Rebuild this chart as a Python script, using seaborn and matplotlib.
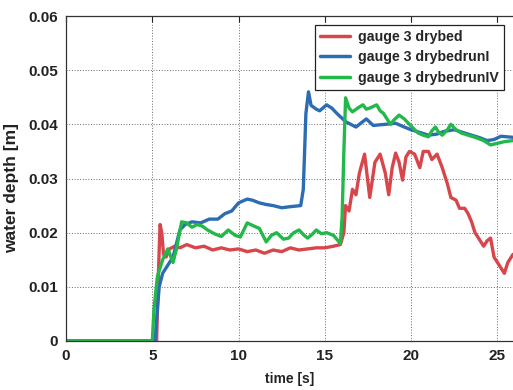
import numpy as np
import pandas as pd
import matplotlib
matplotlib.use("Agg")
import matplotlib.pyplot as plt
import seaborn as sns

# ---- data ----
red_t = [0, 5.25, 5.35, 5.45, 5.55, 5.65, 5.8, 6.0, 6.3, 6.6, 7.0, 7.5, 8.0, 8.5, 9.0, 9.5,
         10.0, 10.5, 11.0, 11.5, 12.0, 12.5, 13.0, 13.5, 14.0, 14.5, 15.0, 15.5, 15.9, 16.1,
         16.2, 16.4, 16.6, 16.8, 17.0, 17.3, 17.6, 17.9, 18.2, 18.5, 18.7, 18.9, 19.1, 19.3,
         19.5, 19.7, 19.9, 20.2, 20.5, 20.7, 21.0, 21.2, 21.5, 21.8, 22.1, 22.3, 22.6, 22.8,
         23.1, 23.3, 23.5, 23.7, 23.9, 24.2, 24.4, 24.6, 24.8, 25.0, 25.2, 25.4, 25.6, 25.9]
red_v = [0, 0, 0.012, 0.0215, 0.020, 0.016, 0.0155, 0.017, 0.0175, 0.0172, 0.0178, 0.0172,
         0.0175, 0.0168, 0.0172, 0.0168, 0.017, 0.0165, 0.0168, 0.0162, 0.0168, 0.0165, 0.0172,
         0.0168, 0.017, 0.0172, 0.0172, 0.0175, 0.0178, 0.020, 0.025, 0.024, 0.028, 0.027,
         0.031, 0.0345, 0.0265, 0.033, 0.0345, 0.031, 0.027, 0.032, 0.0347, 0.033, 0.0297,
         0.034, 0.035, 0.0345, 0.032, 0.035, 0.035, 0.0335, 0.0345, 0.032, 0.029, 0.0265,
         0.026, 0.0245, 0.0245, 0.0235, 0.022, 0.020, 0.019, 0.0175, 0.0185, 0.019, 0.0155,
         0.0145, 0.0135, 0.0125, 0.0145, 0.016]

blue_t = [0, 5.15, 5.25, 5.4, 5.6, 5.9, 6.2, 6.4, 6.6, 6.9, 7.3, 7.8, 8.3, 8.8, 9.2, 9.6,
          10.0, 10.5, 10.8, 11.2, 11.6, 12.0, 12.5, 13.0, 13.6, 13.75, 13.9, 14.05, 14.2,
          14.5, 14.7, 15.1, 15.4, 15.7, 16.2, 16.8, 17.4, 17.8, 18.5, 19.1, 19.6, 20.0, 20.5,
          21.0, 21.5, 21.9, 22.5, 23.0, 23.5, 24.0, 24.4, 24.8, 25.2, 25.9]
blue_v = [0, 0, 0.004, 0.010, 0.0125, 0.014, 0.0155, 0.018, 0.0205, 0.0215, 0.022, 0.0218,
          0.0225, 0.0225, 0.0235, 0.024, 0.0255, 0.0262, 0.026, 0.0255, 0.0252, 0.025, 0.0246,
          0.0248, 0.025, 0.028, 0.042, 0.046, 0.0435, 0.0428, 0.0425, 0.0436, 0.043, 0.042,
          0.0405, 0.0395, 0.041, 0.0398, 0.040, 0.0402, 0.0395, 0.039, 0.0385, 0.038, 0.0382,
          0.0387, 0.039, 0.0385, 0.038, 0.0375, 0.037, 0.0372, 0.0378, 0.0376]

green_t = [0, 5.0, 5.1, 5.3, 5.6, 5.9, 6.2, 6.4, 6.7, 7.0, 7.3, 7.6, 7.9, 8.2, 8.6, 9.0, 9.4,
           9.8, 10.1, 10.5, 10.9, 11.2, 11.6, 11.9, 12.2, 12.6, 12.9, 13.2, 13.5, 13.8, 14.0,
           14.3, 14.5, 14.8, 15.1, 15.5, 15.9, 16.0, 16.1, 16.2, 16.4, 16.6, 16.9, 17.2, 17.4,
           17.6, 17.8, 18.0, 18.2, 18.4, 18.6, 18.8, 19.0, 19.3, 19.6, 19.9, 20.2, 20.4, 20.7,
           21.0, 21.2, 21.4, 21.6, 21.8, 22.1, 22.3, 22.6, 22.9, 23.3, 23.8, 24.2, 24.6, 25.0,
           25.4, 25.9]
green_v = [0, 0, 0.006, 0.012, 0.015, 0.017, 0.0145, 0.017, 0.022, 0.0218, 0.021, 0.0215,
           0.0212, 0.0205, 0.0198, 0.0193, 0.0205, 0.0195, 0.0192, 0.0218, 0.0212, 0.0208,
           0.0183, 0.0195, 0.020, 0.0188, 0.019, 0.020, 0.0205, 0.0195, 0.019, 0.0198, 0.0205,
           0.0198, 0.020, 0.0195, 0.018, 0.023, 0.035, 0.0449, 0.043, 0.0423, 0.043, 0.0436,
           0.0428, 0.043, 0.0433, 0.0436, 0.0425, 0.042, 0.041, 0.040, 0.0408, 0.0417, 0.041,
           0.040, 0.039, 0.0384, 0.038, 0.0377, 0.0388, 0.0395, 0.0385, 0.038, 0.039, 0.040,
           0.039, 0.0384, 0.038, 0.0375, 0.037, 0.0362, 0.0365, 0.0368, 0.037]

series_names = ["gauge 3 drybed", "gauge 3 drybedrunI", "gauge 3 drybedrunIV"]
series_colors = ["#d8464b", "#2b6cb3", "#22b84a"]
x_ticks = [0, 5, 10, 15, 20, 25]
y_ticks = [0, 0.01, 0.02, 0.03, 0.04, 0.05, 0.06]
y_tick_labels = ["0", "0.01", "0.02", "0.03", "0.04", "0.05", "0.06"]

frames = []
for name, t, v in zip(series_names, [red_t, blue_t, green_t], [red_v, blue_v, green_v]):
    frames.append(pd.DataFrame({"time": t, "depth": v, "series": name, "order": range(len(t))}))
df = pd.concat(frames, ignore_index=True)

sns.set_theme(style="white")
plt.rcParams["font.family"] = ["Liberation Sans", "DejaVu Sans"]

fig = plt.figure(figsize=(5.13, 3.90), dpi=100)
ax = fig.add_axes([66 / 513, 1 - 341 / 390, 1 - 66 / 513, (341 - 16) / 390])

sns.lineplot(data=df, x="time", y="depth", hue="series", hue_order=series_names,
             palette=dict(zip(series_names, series_colors)), estimator=None, sort=False,
             units="series", linewidth=2.4, ax=ax, legend=True)

ax.set_xlim(0, 25.9)
ax.set_ylim(0, 0.06)
ax.set_xticks(x_ticks)
ax.set_yticks(y_ticks)
ax.set_yticklabels(y_tick_labels)
ax.grid(True, color="#444444", linestyle=(0, (1, 1.8)), linewidth=0.7, alpha=0.8)
for s in ["left", "bottom", "top"]:
    ax.spines[s].set_color("#333333")
    ax.spines[s].set_linewidth(0.9)
ax.spines["right"].set_visible(False)
ax.tick_params(direction="in", length=4, width=0.8, colors="#222222", top=True, right=False,
               labelsize=11, pad=6)
for lab in ax.get_xticklabels() + ax.get_yticklabels():
    lab.set_fontweight("bold")
    lab.set_color("#222222")

ax.set_xlabel("time [s]", fontsize=10, fontweight="bold", color="#222222", labelpad=6)
ax.set_ylabel("water depth [m]", fontsize=12.5, fontweight="bold", color="#222222")
ax.yaxis.set_label_coords(-0.105, 0.47)

handles, labels = ax.get_legend_handles_labels()
leg = ax.legend(handles, labels, loc="upper right", bbox_to_anchor=(504 / 513, 1 - 25 / 390),
                bbox_transform=fig.transFigure, borderaxespad=0, fancybox=False,
                edgecolor="#222222", framealpha=1, handlelength=2.1, handletextpad=0.6,
                labelspacing=0.45, borderpad=0.35, prop={"size": 10.2, "weight": "bold"})
leg.get_frame().set_linewidth(0.9)
for line in leg.get_lines():
    line.set_linewidth(2.5)

fig.savefig("out.png", dpi=100)
